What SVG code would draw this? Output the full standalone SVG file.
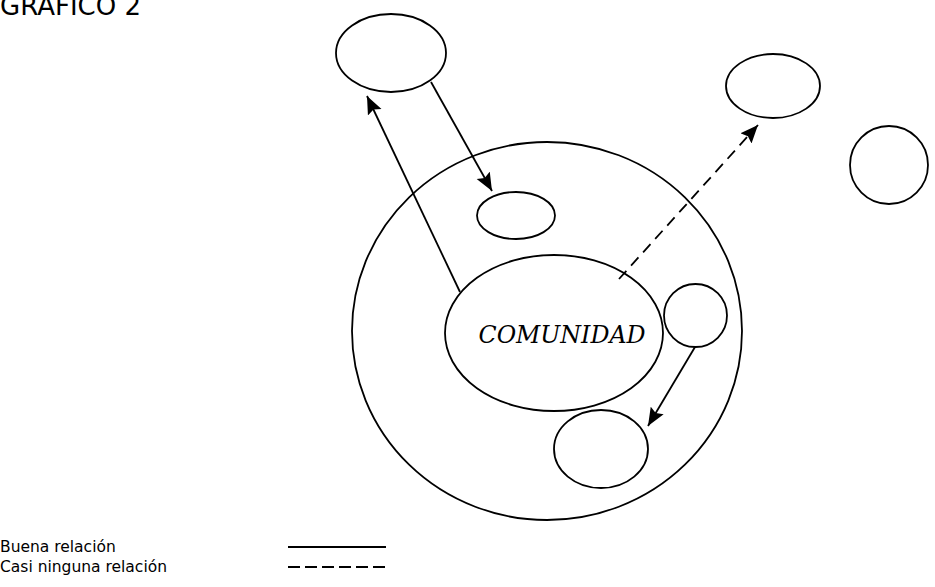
<svg xmlns="http://www.w3.org/2000/svg" width="935" height="587" viewBox="0 0 935 587">
  <style>
    .node { fill: none; stroke: #000; stroke-width: 1.8; }
    .conn { fill: none; stroke: #000; stroke-width: 1.8; }
    .dash { stroke-dasharray: 11 7; }
    .lbl { font-family: "DejaVu Sans", Verdana, sans-serif; fill: #000; }
    .com { font-family: "DejaVu Serif", "Liberation Serif", serif; font-style: italic; fill: #000; }
  </style>
  <defs>
    <marker id="arr" markerWidth="20" markerHeight="16" refX="18" refY="7.5" orient="auto" markerUnits="userSpaceOnUse">
      <path d="M0,0 L18,7.5 L0,15 L3,7.5 Z" fill="#000"/>
    </marker>
  </defs>
  <rect width="935" height="587" fill="#fff"/>
  <text class="lbl" x="0" y="15" font-size="26">GRAFICO 2</text>

  <g id="entorno"><ellipse class="node" cx="547" cy="331" rx="195" ry="189"/></g>
  <g id="comunidad">
    <ellipse class="node" cx="554" cy="333" rx="109" ry="78"/>
    <text class="com" x="562" y="343" font-size="24" text-anchor="middle" textLength="167" lengthAdjust="spacingAndGlyphs">COMUNIDAD</text>
  </g>
  <g id="n-arriba-izq"><ellipse class="node" cx="391" cy="53" rx="55" ry="39"/></g>
  <g id="n-interno"><ellipse class="node" cx="516" cy="215.5" rx="39" ry="23.5"/></g>
  <g id="n-arriba-der"><ellipse class="node" cx="773" cy="86" rx="47" ry="32"/></g>
  <g id="n-der"><ellipse class="node" cx="889" cy="165" rx="39" ry="39"/></g>
  <g id="n-circulo"><circle class="node" cx="695.5" cy="315.5" r="31.5"/></g>
  <g id="n-abajo"><ellipse class="node" cx="601" cy="449" rx="47" ry="39"/></g>

  <g id="connectors">
    <line class="conn" x1="460" y1="292" x2="367" y2="96" marker-end="url(#arr)"/>
    <line class="conn" x1="431" y1="82" x2="492" y2="191" marker-end="url(#arr)"/>
    <line class="conn" x1="695" y1="347" x2="648" y2="426" marker-end="url(#arr)"/>
    <line class="conn dash" x1="619" y1="279" x2="758" y2="125" marker-end="url(#arr)"/>
  </g>

  <g id="leyenda">
    <text class="lbl" x="0" y="552" font-size="15.5">Buena relación</text>
    <text class="lbl" x="0" y="572" font-size="15.5">Casi ninguna relación</text>
    <line class="conn" x1="288" y1="547" x2="386" y2="547"/>
    <line class="conn" x1="288" y1="567" x2="386" y2="567" stroke-dasharray="12 5"/>
  </g>
</svg>
